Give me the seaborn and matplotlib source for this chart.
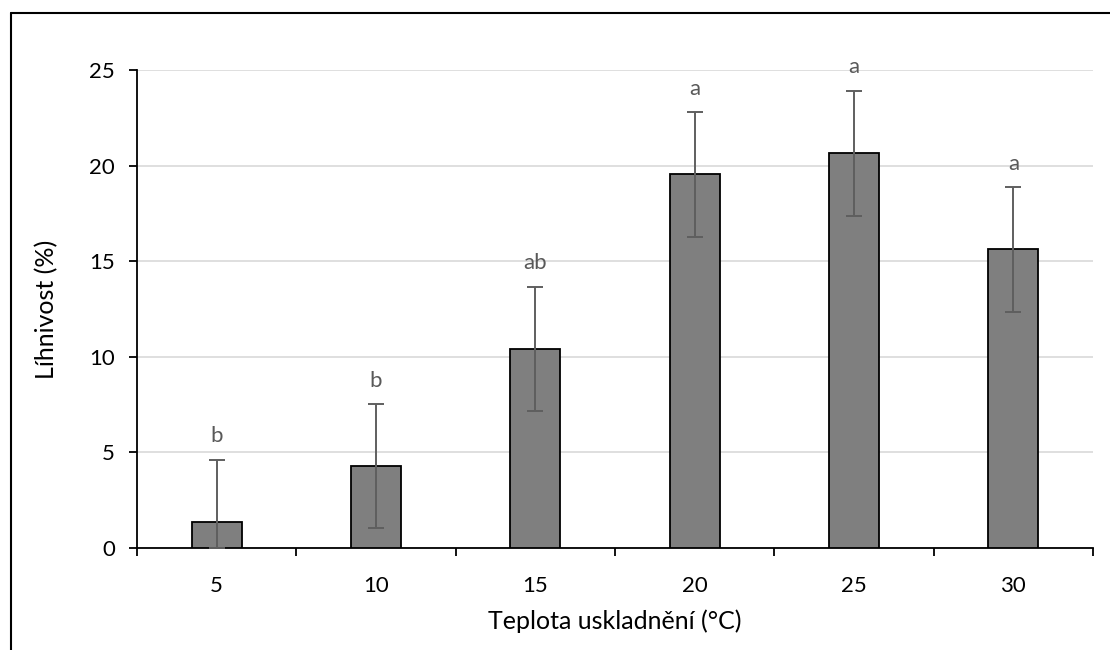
import matplotlib
matplotlib.use("Agg")
import matplotlib.pyplot as plt
import seaborn as sns
import numpy as np
import pandas as pd
from matplotlib.lines import Line2D

# Hatchability by storage temperature
temperatures = ["5", "10", "15", "20", "25", "30"]
hatchability = [1.36, 4.29, 10.41, 19.54, 20.64, 15.62]
errors = [3.26, 3.22, 3.25, 3.26, 3.27, 3.26]
letters = ["b", "b", "ab", "a", "a", "a"]
y_ticks = [0, 5, 10, 15, 20, 25]

sns.set_theme(style="white")
plt.rcParams["font.family"] = ["Lato", "DejaVu Sans"]

df = pd.DataFrame({"teplota": temperatures, "lihnivost": hatchability})

fig = plt.figure(figsize=(11.1, 6.5), dpi=100)
ax = fig.add_axes([0.1234, 0.1569, 0.8613, 0.7354])

sns.barplot(data=df, x="teplota", y="lihnivost", color="#7f7f7f",
            width=0.315, edgecolor="black", linewidth=1.3, saturation=1,
            errorbar=None, ax=ax, zorder=3)

x = np.arange(len(temperatures))
vals = np.array(hatchability)
errs = np.array(errors)
lower = np.minimum(errs, vals)
ax.errorbar(x, vals, yerr=[lower, errs], fmt="none", ecolor="#5f5f5f",
            elinewidth=1.4, capsize=6, capthick=1.4, zorder=4)

for xi, v, e, lab in zip(x, vals, errs, letters):
    ax.text(xi, v + e + 0.7, lab, ha="center", va="bottom",
            fontsize=16, color="#595959")

ax.set_xlim(-0.5, len(temperatures) - 0.5)
ax.set_ylim(0, 25)
ax.set_yticks(y_ticks)
ax.yaxis.grid(True, color="#d9d9d9", linewidth=1.2, zorder=0)
ax.xaxis.grid(False)
ax.set_axisbelow(True)

for side in ["top", "right"]:
    ax.spines[side].set_visible(False)
for side in ["left", "bottom"]:
    ax.spines[side].set_color("black")
    ax.spines[side].set_linewidth(1.3)

ax.tick_params(axis="y", which="major", left=True, length=6, width=1.3,
               color="black", labelsize=16, pad=10, labelcolor="black")
ax.tick_params(axis="x", which="major", bottom=False, labelsize=16, pad=14,
               labelcolor="black")
ax.set_xticks(np.arange(-0.5, len(temperatures)), minor=True)
ax.tick_params(axis="x", which="minor", bottom=True, length=6, width=1.3,
               color="black")

ax.set_xlabel("Teplota uskladnění (°C)", fontsize=18, labelpad=10, color="black")
ax.set_ylabel("Líhnivost (%)", fontsize=18, labelpad=22, color="black")

# frame around the figure area
fig.add_artist(Line2D([11 / 1110, 11 / 1110], [0, 1 - 13 / 650],
                      transform=fig.transFigure, color="black", linewidth=1.5))
fig.add_artist(Line2D([11 / 1110, 1], [1 - 13 / 650, 1 - 13 / 650],
                      transform=fig.transFigure, color="black", linewidth=1.5))

fig.savefig("out.png", dpi=100)
